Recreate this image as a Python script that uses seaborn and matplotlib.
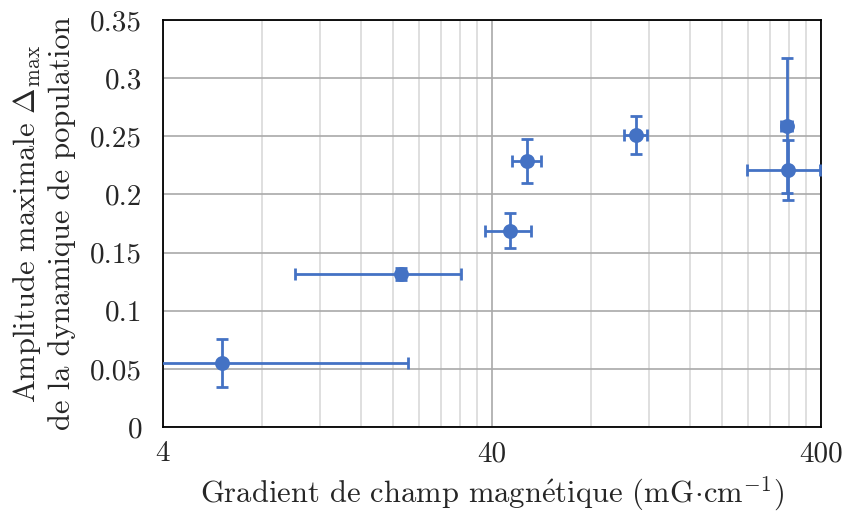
import numpy as np
import matplotlib
matplotlib.use("Agg")
import matplotlib.pyplot as plt
import matplotlib.ticker as mticker
import pandas as pd
import seaborn as sns

# valeurs
gradient = [6.05, 21.1, 45.4, 51.2, 109.6, 315.0, 316.8]
gradient_err_lo = [3.0, 11.0, 7.3, 5.1, 8.6, 12.0, 78.0]
gradient_err_hi = [16.1, 11.2, 7.0, 5.3, 8.4, 12.0, 80.0]
delta_max = [0.055, 0.1316, 0.1688, 0.229, 0.2511, 0.2591, 0.221]
delta_err = [0.0205, 0.005, 0.015, 0.019, 0.016, 0.058, 0.0255]

xticks = [4, 40, 400]
yticks = [0, 0.05, 0.1, 0.15, 0.2, 0.25, 0.3, 0.35]
ytick_labels = ["0", "0.05", "0.1", "0.15", "0.2", "0.25", "0.3", "0.35"]

df = pd.DataFrame({"G": gradient, "D": delta_max})
bleu = "#4472C4"

sns.set_theme(style="white")
plt.rcParams["font.family"] = ["cmr10", "DejaVu Serif"]
plt.rcParams["mathtext.fontset"] = "cm"
plt.rcParams["axes.formatter.use_mathtext"] = True
plt.rcParams["axes.unicode_minus"] = False

fig = plt.figure(figsize=(8.42, 5.15), dpi=100)
ax = fig.add_axes([163 / 842, 1 - 427 / 515, (821 - 163) / 842, (427 - 20) / 515])

ax.errorbar(df["G"], df["D"], xerr=[gradient_err_lo, gradient_err_hi], yerr=delta_err,
            fmt="none", ecolor=bleu, elinewidth=2, capsize=4, capthick=2, zorder=3)
sns.scatterplot(data=df, x="G", y="D", ax=ax, color=bleu, s=115, edgecolor=bleu,
                linewidth=0, zorder=4)

ax.set_xscale("log")
ax.set_xlim(4, 400)
ax.set_ylim(0, 0.35)
ax.xaxis.set_major_locator(mticker.FixedLocator(xticks))
ax.xaxis.set_major_formatter(mticker.FixedFormatter([str(v) for v in xticks]))
minors = [4 * k * 10 ** n for n in range(2) for k in range(2, 10)]
ax.xaxis.set_minor_locator(mticker.FixedLocator(minors))
ax.xaxis.set_minor_formatter(mticker.NullFormatter())
ax.set_yticks(yticks)
ax.set_yticklabels(ytick_labels)

ax.grid(which="major", color="#A9A9A9", linewidth=1.2, zorder=0)
ax.grid(which="minor", axis="x", color="#D9D9D9", linewidth=1.2, zorder=0)
ax.set_axisbelow(True)
ax.tick_params(axis="both", which="both", length=0, labelsize=21)
ax.tick_params(axis="x", pad=10)
ax.tick_params(axis="y", pad=15)
for s in ax.spines.values():
    s.set_color("black")
    s.set_linewidth(1.3)

ax.set_xlabel(r"Gradient de champ magn$\acute{\mathrm{e}}$tique $(\mathrm{mG}\!\cdot\!\mathrm{cm}^{-1})$",
              fontsize=22, labelpad=5)
ax.set_ylabel("Amplitude maximale $\\Delta_{\\max}$\nde la dynamique de population",
              fontsize=22, labelpad=10, linespacing=1.25)

fig.savefig("out.png", dpi=100)
